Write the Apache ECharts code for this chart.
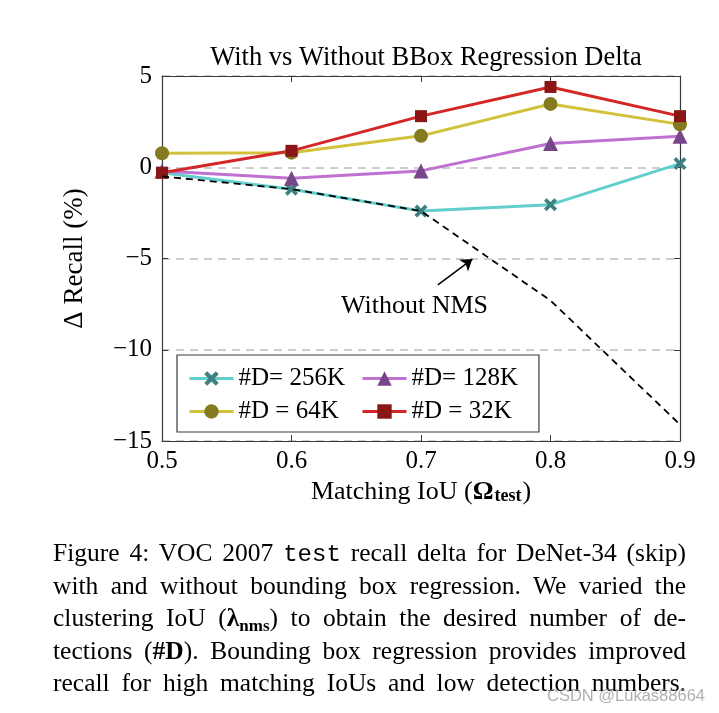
<!DOCTYPE html>
<html>
<head>
<meta charset="utf-8">
<script src="https://cdn.jsdelivr.net/npm/echarts@6/dist/echarts.min.js"></script>
<style>
  html, body { margin:0; padding:0; background:#fff; }
  #wrap { position:relative; width:719px; height:713px; overflow:hidden; }
  #chart { position:absolute; left:0; top:0; width:719px; height:713px; }
  #caption { position:absolute; left:53px; top:537px; width:633px; font-family:"Liberation Serif", serif; font-size:25.5px; color:#000; line-height:32.5px; }
  #caption div { text-align:justify; text-align-last:justify; white-space:nowrap; height:32.5px; }
  #caption .mono { font-family:"Liberation Mono", monospace; font-size:24px; }
  #caption sub { font-size:17px; line-height:0; vertical-align:-5px; }
  #wm { position:absolute; left:547px; top:686px; font-family:"Liberation Sans", sans-serif; font-size:16.5px; color:rgba(150,150,150,0.75); }
</style>
</head>
<body>
<div id="wrap">
  <div id="chart"></div>
  <div id="caption">
    <div>Figure 4: VOC 2007 <span class="mono">test</span> recall delta for DeNet-34 (skip)</div>
    <div>with and without bounding box regression. We varied the</div>
    <div>clustering IoU (<b>λ<sub>nms</sub></b>) to obtain the desired number of de-</div>
    <div>tections (<b>#D</b>). Bounding box regression provides improved</div>
    <div>recall for high matching IoUs and low detection numbers.</div>
  </div>
  <div id="wm">CSDN @Lukas88664</div>
</div>
<script>
// ---- data ----
const iouValues = [0.5, 0.6, 0.7, 0.8, 0.9];
const d256K = [-0.3, -1.2, -2.4, -2.05, 0.2];
const d128K = [-0.2, -0.6, -0.2, 1.3, 1.7];
const d64K  = [0.77, 0.8, 1.72, 3.47, 2.35];
const d32K  = [-0.3, 0.9, 2.8, 4.4, 2.8];
const withoutNMS = [-0.5, -1.2, -2.4, -7.3, -14.1];
const seriesNames = ['#D= 256K', '#D= 128K', '#D = 64K', '#D = 32K'];
const yTicks = [-15, -10, -5, 0, 5];
const xTicks = [0.5, 0.6, 0.7, 0.8, 0.9];
const annotationText = 'Without NMS';
const arrowFrom = [0.713, -6.44];
const arrowTo = [0.7397, -5.03];
const textAt = [0.695, -7.6];

const SERIF = '"Liberation Serif", "Times New Roman", serif';
const pair = (xs, ys) => xs.map((x, i) => [x, ys[i]]);
const crossPath = 'path://M2,0 L5,3 L8,0 L10,2 L7,5 L10,8 L8,10 L5,7 L2,10 L0,8 L3,5 L0,2 Z';
const fmtY = v => (v < 0 ? '\u2212' + Math.abs(v) : String(v));

const frameColor = '#3a3a3a';
function axisCommon() {
  return {
    axisLine: { show: true, onZero: false, lineStyle: { color: frameColor, width: 1.2 } },
    axisTick: { show: true, inside: true, length: 6, lineStyle: { color: frameColor, width: 1 } },
  };
}

const chart = echarts.init(document.getElementById('chart'), null, { renderer: 'canvas' });

function mkSeries(name, data, lineColor, markColor, symbol, size) {
  return {
    name, type: 'line', data: pair(iouValues, data),
    symbol, symbolSize: size, showSymbol: true,
    lineStyle: { color: lineColor, width: 3 },
    itemStyle: { color: markColor, borderWidth: 0 },
    emphasis: { disabled: true }, animation: false,
  };
}

const legendCommon = {
  orient: 'vertical',
  itemGap: 8,
  itemWidth: 44, itemHeight: 18,
  lineStyle: { width: 3 },
  textStyle: { fontFamily: SERIF, fontSize: 25, color: '#000' },
  selectedMode: false,
};

const option = {
  animation: false,
  backgroundColor: '#fff',
  title: {
    text: 'With vs Without BBox Regression Delta',
    left: 421, textAlign: 'center', top: 40,
    textStyle: { fontFamily: SERIF, fontSize: 26.5, fontWeight: 'normal', color: '#000' }
  },
  grid: { left: 162, right: 39, top: 76, bottom: 272 },
  legend: [
    Object.assign({}, legendCommon, {
      data: [seriesNames[0], seriesNames[2]],
      left: 177, top: 355,
      padding: [11, 194, 8, 11],
      borderColor: frameColor, borderWidth: 1.2, backgroundColor: '#fff',
      z: 4,
    }),
    Object.assign({}, legendCommon, {
      data: [seriesNames[1], seriesNames[3]],
      left: 361, top: 366,
      padding: 0,
      z: 5,
    }),
  ],
  xAxis: [
    Object.assign(axisCommon(), {
      type: 'value', min: 0.5, max: 0.9, interval: 0.1, position: 'bottom',
      name: '{a|Matching IoU (}{b|Ω}{s|test}{a|)}', nameLocation: 'middle', nameGap: 37,
      nameTextStyle: {
        rich: {
          a: { fontFamily: SERIF, fontSize: 26, color: '#000' },
          b: { fontFamily: SERIF, fontSize: 26, fontWeight: 'bold', color: '#000' },
          s: { fontFamily: SERIF, fontSize: 18, fontWeight: 'bold', color: '#000', verticalAlign: 'bottom', padding: [9, 1, 0, 1] },
        }
      },
      axisLabel: { fontFamily: SERIF, fontSize: 25, color: '#000', margin: 8, formatter: v => v.toFixed(1) },
      splitLine: { show: false },
    }),
    Object.assign(axisCommon(), {
      type: 'value', min: 0.5, max: 0.9, interval: 0.1, position: 'top',
      axisLabel: { show: false }, splitLine: { show: false },
    }),
  ],
  yAxis: [
    Object.assign(axisCommon(), {
      type: 'value', min: -15, max: 5, interval: 5, position: 'left',
      name: 'Δ Recall (%)', nameLocation: 'middle', nameGap: 74, nameRotate: 90,
      nameTextStyle: { fontFamily: SERIF, fontSize: 27, color: '#000' },
      axisLabel: { fontFamily: SERIF, fontSize: 25, color: '#000', margin: 10, formatter: fmtY },
      splitLine: { show: true, lineStyle: { color: '#bdbdbd', width: 1.5, type: [8, 6] } },
    }),
    Object.assign(axisCommon(), {
      type: 'value', min: -15, max: 5, interval: 5, position: 'right',
      axisLabel: { show: false }, splitLine: { show: false },
    }),
  ],
  series: [
    mkSeries(seriesNames[0], d256K, '#62cfcc', '#3e7f80', crossPath, 13),
    mkSeries(seriesNames[1], d128K, '#c070d0', '#77458a', 'triangle', 15),
    mkSeries(seriesNames[2], d64K, '#d2c13a', '#847a20', 'circle', 14),
    mkSeries(seriesNames[3], d32K, '#d42626', '#8a1515', 'rect', 12),
    {
      name: 'Without NMS', type: 'line', data: pair(iouValues, withoutNMS),
      symbol: 'none', z: 5,
      lineStyle: { color: '#000', width: 1.8, type: [7, 5] },
      emphasis: { disabled: true },
      markLine: {
        silent: true, animation: false,
        symbol: ['none', 'arrow'], symbolSize: 11,
        lineStyle: { color: '#000', width: 1.5, type: 'solid' },
        label: { show: false },
        data: [[{ coord: arrowFrom }, { coord: arrowTo }]],
      },
      markPoint: {
        silent: true, animation: false,
        data: [{
          coord: textAt, symbol: 'rect', symbolSize: 1,
          itemStyle: { color: 'rgba(0,0,0,0)' },
          label: { show: true, position: 'inside', formatter: annotationText, fontFamily: SERIF, fontSize: 26, color: '#000' }
        }]
      }
    }
  ]
};
chart.setOption(option);
</script>
</body>
</html>
